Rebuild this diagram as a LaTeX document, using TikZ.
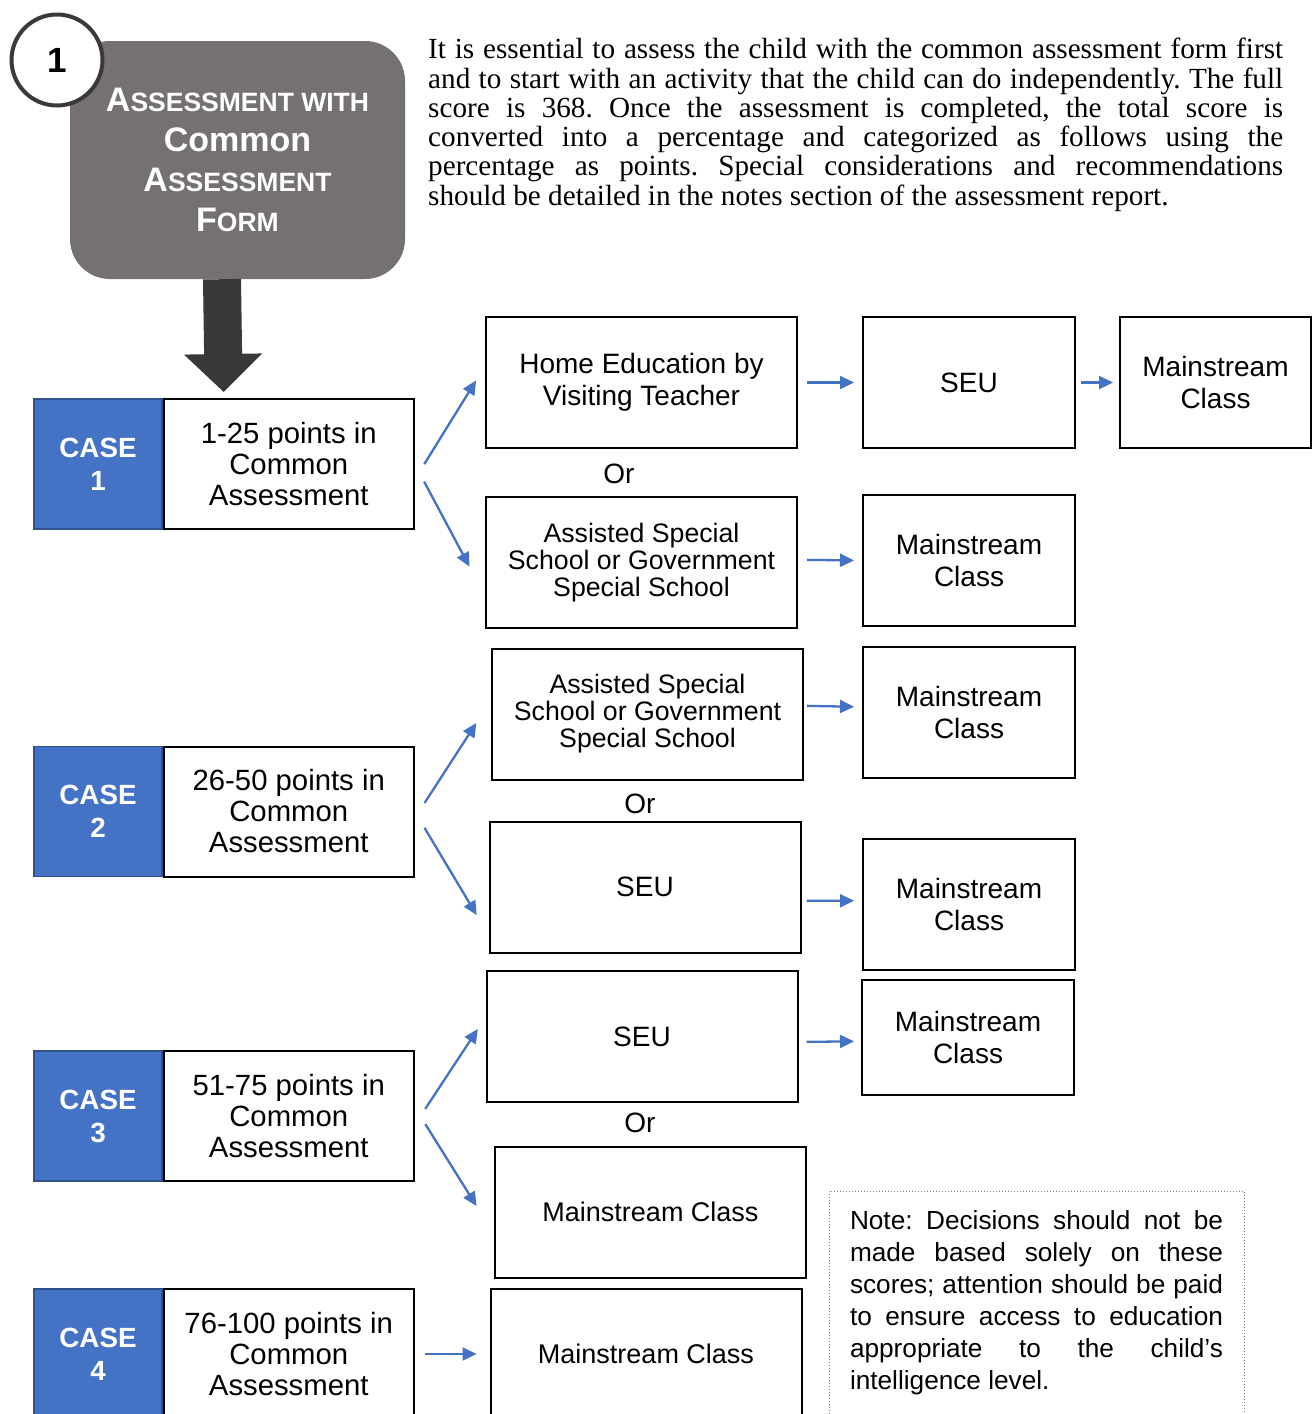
\documentclass[tikz,border=0pt]{standalone}
\usepackage{fontspec}
\setmainfont{Liberation Serif}
\setsansfont{Liberation Sans}
\usetikzlibrary{positioning}
\usetikzlibrary{arrows.meta}
\definecolor{caseblue}{HTML}{4472C4}
\definecolor{caseedge}{HTML}{2F528F}
\definecolor{titlegray}{HTML}{767171}
\definecolor{darkgray}{HTML}{3B3838}
\newcommand{\smc}[1]{{\fontsize{26.5}{40}\selectfont #1}}
\hyphenpenalty=10000
\exhyphenpenalty=10000

\begin{document}
\begin{tikzpicture}[x=1pt,y=-1pt,
    font=\sffamily\fontsize{28}{32}\selectfont,
    box/.style={draw, line width=2pt, fill=white, align=center, inner sep=0pt,
                minimum width=311pt, minimum height=131pt},
    side/.style={box, minimum width=212pt},
    school/.style={box, font=\sffamily\fontsize{26.7}{27}\selectfont},
    casebox/.style={draw=caseedge, line width=1.5pt, fill=caseblue, text=white,
                    font=\sffamily\bfseries\fontsize{27.8}{33}\selectfont, align=center,
                    minimum width=128pt, minimum height=130pt, inner sep=0pt},
    pointbox/.style={box, minimum width=250pt, minimum height=130pt,
                     font=\sffamily\fontsize{29.3}{31}\selectfont},
    flow/.style={->, >={Triangle[length=14pt,width=13pt]}, draw=caseblue, line width=2.3pt}]
  \useasboundingbox (0,0) rectangle (1313,1414);

  % heading
  \node (title) [fill=titlegray, rounded corners=40pt, minimum width=335pt, minimum height=238pt,
         text=white, align=center, font=\sffamily\bfseries\fontsize{34}{40}\selectfont]
         at (237.5,160) {A\smc{SSESSMENT WITH}\\Common\\A\smc{SSESSMENT}\\F\smc{ORM}};
  \node (one) [circle, draw=darkgray, line width=4pt, fill=white, minimum size=91pt, inner sep=0pt,
         font=\sffamily\bfseries\fontsize{35}{35}\selectfont] at (57,60) {1};
  \node (intro) [anchor=north west, text width=855pt, align=justify, inner sep=0pt,
         font=\rmfamily\fontsize{29.2}{29.3}\selectfont] at (428,38)
         {\frenchspacing It is essential to assess the child with the common assessment form first\linebreak
          and to start with an activity that the child can do independently. The full\linebreak
          score is 368. Once the assessment is completed, the total score is\linebreak
          converted into a percentage and categorized as follows using the\linebreak
          percentage as points. Special considerations and recommendations\linebreak
          should be detailed in the notes section of the assessment report.};

  % cases
  \node (k1) [casebox] at (98,464) {CASE\\1};
  \node (t1) [pointbox, right=0pt of k1] {1-25 points in\\Common\\Assessment};
  \node (k2) [casebox] at (98,811.5) {CASE\\2};
  \node (t2) [pointbox, right=0pt of k2] {26-50 points in\\Common\\Assessment};
  \node (k3) [casebox] at (98,1116) {CASE\\3};
  \node (t3) [pointbox, right=0pt of k3] {51-75 points in\\Common\\Assessment};
  \node (k4) [casebox] at (98,1354) {CASE\\4};
  \node (t4) [pointbox, right=0pt of k4] {76-100 points in\\Common\\Assessment};

  \draw [darkgray, line width=38pt, -{Triangle[length=38pt,width=76pt]}, shorten >=6pt]
        (title.south -| 222,0) -- ([xshift=-65pt]t1.north);

  % case 1
  \node (a1) [box] at (641.5,382.5) {Home Education by\\Visiting Teacher};
  \node (b1) [side] at (969,382.5) {SEU};
  \node (c1) [box, minimum width=191pt] at (1215.5,382.5) {Mainstream\\Class};
  \node (or1) at (619,474) {Or};
  \node (a2) [school] at (641.5,562.5) {Assisted Special\\School or Government\\Special School};
  \node (b2) [side] at (969,560.5) {Mainstream\\Class};

  % case 2
  \node (a3) [school] at (647.5,714) {Assisted Special\\School or Government\\Special School};
  \node (b3) [side] at (969,712.5) {Mainstream\\Class};
  \node (or2) at (640,804) {Or};
  \node (a4) [box] at (645,887) {SEU};
  \node (b4) [side] at (969,904.5) {Mainstream\\Class};

  % case 3
  \node (a5) [box] at (642,1036.5) {SEU};
  \node (b5) [side, minimum height=115pt] at (968,1037.5) {Mainstream\\Class};
  \node (or3) at (640,1123) {Or};
  \node (a6) [box, font=\sffamily\fontsize{27}{32}\selectfont] at (650.5,1212) {Mainstream Class};

  % case 4
  \node (a7) [box, font=\sffamily\fontsize{27}{32}\selectfont] at (646,1354) {Mainstream Class};

  \node (note) [draw=gray, dotted, line width=1pt, minimum width=415pt, minimum height=223pt,
         text width=373pt, align=justify, font=\sffamily\fontsize{26.2}{32}\selectfont]
         at (1036.5,1302.5)
         {\frenchspacing Note: Decisions should not be\linebreak made based solely on these\linebreak
          scores; attention should be paid\linebreak to ensure access to education\linebreak
          appropriate to the child’s\linebreak intelligence level.};

  \draw [flow, shorten <=18pt, shorten >=17pt] (t1.-7) -- (a1.174);
  \draw [flow, shorten <=20pt, shorten >=33pt] (t1.east) -- (a2.192);
  \draw [flow, shorten <=9pt, shorten >=8pt] (a1.east) -- (b1.west);
  \draw [flow, shorten <=5pt, shorten >=6pt] (b1.east) -- (c1.west);
  \draw [flow, shorten <=9pt, shorten >=8pt] (a2.1) -- (b2.west);

  \draw [flow, shorten <=18pt, shorten >=27pt] (t2.-3) -- (a3.175);
  \draw [flow, shorten <=19pt, shorten >=23pt] (t2.east) -- (a4.197);
  \draw [flow, shorten <=3pt, shorten >=8pt] (a3.3) -- (b3.177);
  \draw [flow, shorten <=5pt, shorten >=8pt] (a4.-5) -- (b4.178);

  \draw [flow, shorten <=19pt, shorten >=14pt] (t3.-4) -- (a5.173);
  \draw [flow, shorten <=20pt, shorten >=33pt] (t3.4) -- (a6.188);
  \draw [flow, shorten <=8pt, shorten >=7pt] (a5.-2) -- (b5.182);

  \draw [flow, shorten <=10pt, shorten >=13pt] (t4.east) -- (a7.west);
\end{tikzpicture}
\end{document}
